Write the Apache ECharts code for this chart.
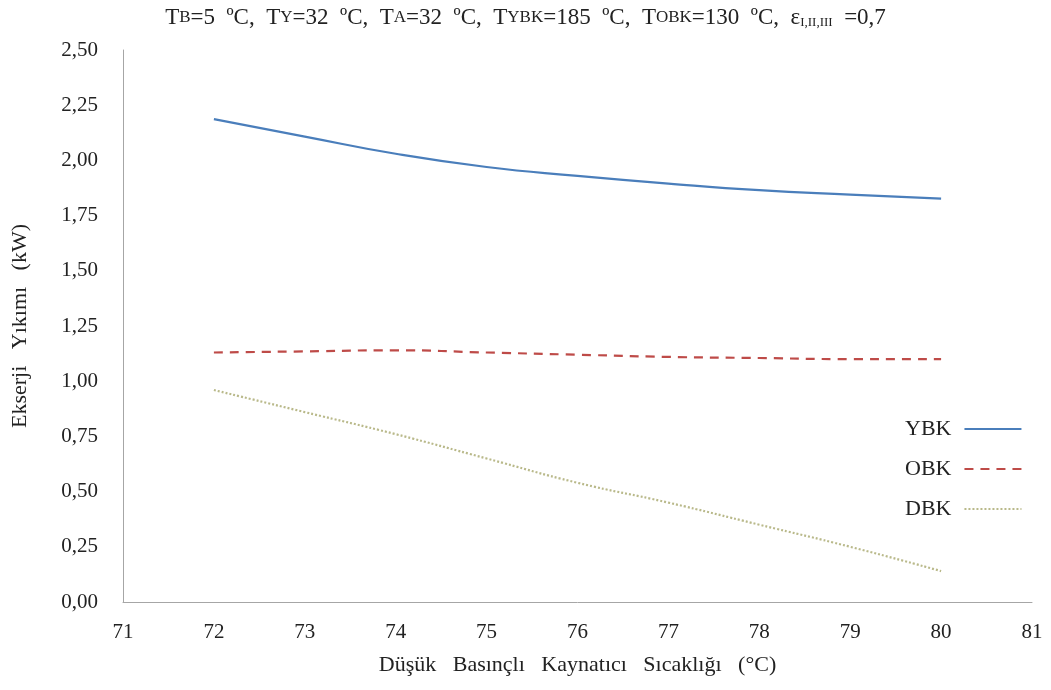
<!DOCTYPE html>
<html>
<head>
<meta charset="utf-8">
<script src="https://cdn.jsdelivr.net/npm/echarts@6/dist/echarts.min.js"></script>
<style>
  html, body { margin: 0; padding: 0; background: #fff; }
  #chart { width: 1051px; height: 690px; }
</style>
</head>
<body>
<div id="chart"></div>
<script>
// sıcaklık (°C)
const temps = [72, 73, 74, 75, 76, 77, 78, 79, 80];
// ekserji yıkımı (kW)
const ybk = [2.187, 2.108, 2.03, 1.97, 1.93, 1.895, 1.865, 1.845, 1.827];
const obk = [1.13, 1.135, 1.14, 1.13, 1.12, 1.11, 1.105, 1.10, 1.10];
const dbk = [0.96, 0.86, 0.76, 0.65, 0.54, 0.45, 0.35, 0.25, 0.14];

const serif = '"Liberation Serif", "DejaVu Serif", serif';
const chart = echarts.init(document.getElementById('chart'));

const pairs = arr => temps.map((t, i) => [t, arr[i]]);

chart.setOption({
  animation: false,
  textStyle: { fontFamily: serif },
  title: {
    text: 'T{s|B}=5  ºC,  T{s|Y}=32  ºC,  T{s|A}=32  ºC,  T{s|YBK}=185  ºC,  T{s|OBK}=130  ºC,  ε{sub|I,II,III}  =0,7',
    left: 'center',
    top: 1,
    textStyle: {
      fontFamily: serif,
      fontSize: 23,
      fontWeight: 'normal',
      color: '#222',
      rich: {
        s: { fontFamily: serif, fontSize: 17, color: '#222' },
        sub: { fontFamily: serif, fontSize: 13, color: '#222', padding: [10, 0, 0, 0] }
      }
    }
  },
  grid: { left: 123, right: 19, top: 50, bottom: 88 },
  legend: {
    orient: 'vertical',
    left: 900,
    top: 413,
    align: 'right',
    itemGap: 18,
    itemWidth: 57,
    itemHeight: 24,
    itemStyle: { opacity: 0 },
    textStyle: { fontFamily: serif, fontSize: 22, color: '#222', padding: [0, 8, 0, 0] },
    data: ['YBK', 'OBK', 'DBK']
  },
  xAxis: {
    type: 'value',
    min: 71,
    max: 81,
    interval: 1,
    name: 'Düşük   Basınçlı   Kaynatıcı   Sıcaklığı   (°C)',
    nameLocation: 'middle',
    nameGap: 52,
    nameTextStyle: { fontFamily: serif, fontSize: 22, color: '#222' },
    axisLine: { show: true, lineStyle: { color: '#a6a6a6', width: 1 } },
    axisTick: { show: false },
    splitLine: { show: false },
    axisLabel: { fontFamily: serif, fontSize: 21, color: '#222', margin: 20 }
  },
  yAxis: {
    type: 'value',
    min: 0,
    max: 2.5,
    interval: 0.25,
    name: 'Ekserji   Yıkımı   (kW)',
    nameLocation: 'middle',
    nameGap: 92,
    nameTextStyle: { fontFamily: serif, fontSize: 22, color: '#222' },
    axisLine: { show: true, lineStyle: { color: '#a6a6a6', width: 1 } },
    axisTick: { show: false },
    splitLine: { show: false },
    axisLabel: {
      fontFamily: serif, fontSize: 21, color: '#222', margin: 25,
      formatter: v => v.toFixed(2).replace('.', ',')
    }
  },
  series: [
    {
      name: 'YBK', type: 'line', data: pairs(ybk), smooth: true,
      symbol: 'none',
      lineStyle: { color: '#4a7ebb', width: 2.2 },
      itemStyle: { color: '#4a7ebb' }
    },
    {
      name: 'OBK', type: 'line', data: pairs(obk), smooth: true,
      symbol: 'none',
      lineStyle: { color: '#be4b48', width: 2.2, type: [9, 7] },
      itemStyle: { color: '#be4b48' }
    },
    {
      name: 'DBK', type: 'line', data: pairs(dbk), smooth: true,
      symbol: 'none',
      lineStyle: { color: '#b9b98a', width: 2.2, type: [2, 2] },
      itemStyle: { color: '#b9b98a' }
    }
  ]
});
</script>
</body>
</html>
